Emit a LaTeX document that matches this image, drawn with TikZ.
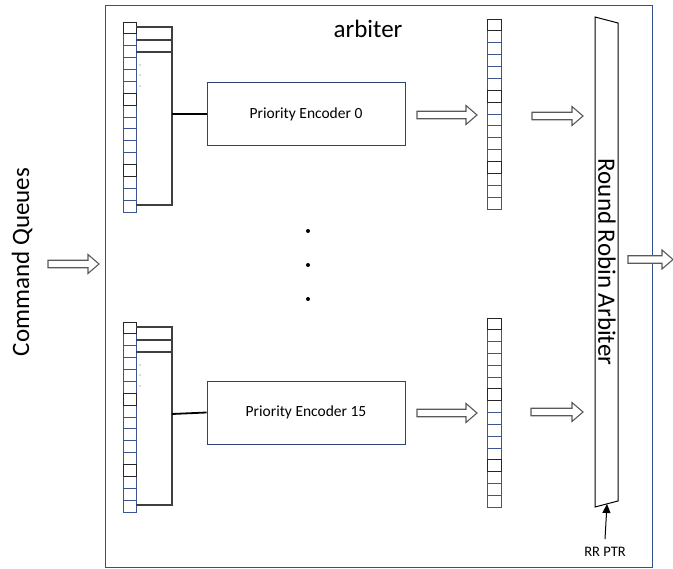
\documentclass[tikz,border=0pt]{standalone}
\usepackage{fontspec}
\setmainfont{Carlito}
\usetikzlibrary{arrows.meta}

\definecolor{frameblue}{HTML}{2F528F}
\definecolor{encblue}{HTML}{2E4374}
\definecolor{cellblue}{HTML}{3C5590}
\definecolor{arrowgray}{HTML}{595959}
\definecolor{wiregray}{HTML}{3F3F3F}

\tikzset{
  x=1pt, y=-1pt,
  frame/.style={draw=frameblue, line width=1pt},
  encoder/.style={draw=encblue, line width=0.9pt, minimum width=198pt,
    minimum height=63pt, inner sep=0pt, font=\fontsize{15.5}{18}\selectfont},
  bigtext/.style={font=\fontsize{25}{29}\selectfont, inner sep=0pt},
  smalltext/.style={font=\fontsize{14.5}{17}\selectfont, inner sep=0pt},
  cellline/.style={draw=cellblue, line width=0.85pt},
  cellmark/.style={draw=black!85, line width=0.95pt},
  bracket/.style={draw=wiregray, line width=1.4pt},
  feed/.style={draw=black, line width=1.8pt},
  % hollow block arrow of a given length, pointing right
  pics/hollowarrow/.style={code={
    \draw[arrowgray, line width=1.1pt, fill=white, line join=miter]
      (0,-3.75) -- (#1-11,-3.75) -- (#1-11,-9.5) -- (#1,0)
      -- (#1-11,9.5) -- (#1-11,3.75) -- (0,3.75) -- cycle;}},
}

% a column of 16 queue slots: left x, top y, width, total height
\newcommand\slotcolumn[4]{%
  \foreach \i in {0,...,15}{%
    \draw[cellline] (#1,{#2+\i*#4/16}) rectangle (#1+#3,{#2+(\i+1)*#4/16});}
  \foreach \i in {0,6,12}{%
    \draw[cellmark] (#1,{#2+\i*#4/16}) rectangle (#1+#3,{#2+(\i+1)*#4/16});}
}

% a queue with its selection bracket: left x, top y
\newcommand\queuebracket[3]{%
  \slotcolumn{#1}{#2}{13}{190}
  \draw[bracket] (#1+13,#2+5) -- (#1+49,#2+5) -- (#1+49,#2+183) -- (#1+13,#2+183);
  \draw[bracket] (#1+13,#2+18) -- (#1+49,#2+18);
  \draw[bracket] (#1+13,#2+30) -- (#1+49,#2+30);
  \foreach \d in {43,53,64}{\fill[black!60] (#1+17,#2+\d) circle (0.6);}
  \coordinate (#3) at (#1+49,#2+92);
}

\begin{document}
\begin{tikzpicture}
\useasboundingbox (0,0) rectangle (673,569);

% arbiter enclosure
\draw[frame] (105,6) rectangle (652,568);
\node[bigtext] (title) at (368,29) {arbiter};

% input label and arrow
\node[bigtext, rotate=90] (cq) at (22,262) {Command Queues};
\pic at (48,264) {hollowarrow=51};

% queue 0 and its priority encoder
\queuebracket{123}{22}{brk0}
\node[encoder] (enc0) at (306,114) {Priority Encoder 0};
\draw[feed] (brk0) -- (enc0.west);
\pic at (417,115) {hollowarrow=60};
\slotcolumn{487}{19}{14}{190}
\pic at (532,116) {hollowarrow=51};

% ellipsis between the encoders
\foreach \y in {231,265,299}{\fill (308,\y) circle (2);}

% queue 15 and its priority encoder
\queuebracket{123}{322}{brk15}
\node[encoder] (enc15) at (306,412.5) {Priority Encoder 15};
\draw[feed] (brk15) -- (enc15.west);
\pic at (417,413) {hollowarrow=60};
\slotcolumn{487}{318}{14}{189}
\pic at (531,412) {hollowarrow=52};

% round robin arbiter block
\draw[black, line width=1pt, line join=miter]
  (595,17) -- (618,23) -- (618,501) -- (595,507) -- cycle;
\node[bigtext, rotate=-90] (rr) at (607,262) {Round Robin Arbiter};
\coordinate (rrbot) at (607,504);

% round robin pointer
\node[smalltext] (ptr) at (605,552) {RR PTR};
\draw[black, line width=1pt, -{Triangle[length=9pt,width=8pt]}]
  ([yshift=8pt]ptr.north) -- (rrbot);

% output arrow
\pic at (628,259.5) {hollowarrow=45};
\end{tikzpicture}
\end{document}
